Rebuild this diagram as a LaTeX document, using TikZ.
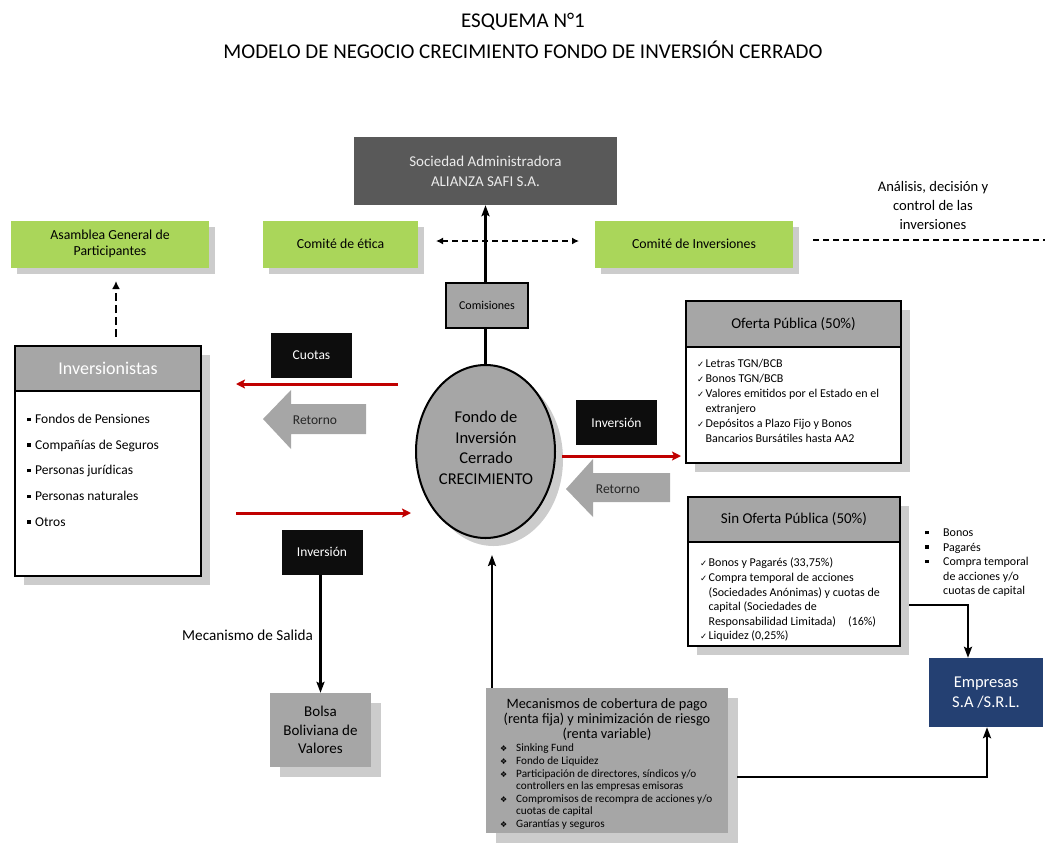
\documentclass[tikz,border=0pt]{standalone}
\usepackage{fontspec}
\setmainfont{Carlito}
\newfontfamily\dejavu{DejaVu Sans}
\usetikzlibrary{arrows.meta,shadows,calc,shapes.geometric}
\definecolor{grn}{RGB}{170,214,90}
\definecolor{gry}{RGB}{166,166,166}
\definecolor{dgry}{RGB}{89,89,89}
\definecolor{blk}{RGB}{13,13,13}
\definecolor{rd}{RGB}{192,0,0}
\definecolor{navy}{RGB}{36,64,114}
\definecolor{shd}{RGB}{204,204,204}
\definecolor{txtg}{RGB}{38,38,38}
\newcommand{\fs}[2]{\fontsize{#1}{#2}\selectfont}
\newcommand{\ckm}{\makebox[8.5pt][l]{{\dejavu\fs{8.5}{8.5}✓}}}
\newcommand{\ckn}{\hspace*{8.5pt}}
\newcommand{\sqb}{\makebox[8pt][l]{\rule[2.5pt]{3.5pt}{3.5pt}}}
\newcommand{\sqr}{\makebox[18pt][l]{\rule[2.5pt]{3.5pt}{3.5pt}}}
\newcommand{\sqn}{\hspace*{18pt}}
\newcommand{\dmb}{\makebox[16pt][l]{{\dejavu\fs{8}{8}❖}}}
\newcommand{\dmn}{\hspace*{16pt}}
\tikzset{
  shadowed/.style={drop shadow={shadow xshift=#1, shadow yshift=-#1, fill=shd, opacity=1}},
  greenbox/.style={fill=grn, minimum width=198pt, minimum height=47pt, inner sep=0pt, align=center, font=\fs{13.8}{16.5}, shadowed=6pt},
  blackbox/.style={fill=blk, text=white, minimum width=81pt, minimum height=45pt, inner sep=0pt, font=\fs{13.5}{16}},
  listbox/.style={draw=black, line width=2pt, fill=white, inner sep=0pt, shadowed=9pt},
  headbox/.style={draw=black, line width=2pt, fill=gry, inner sep=0pt},
  redarr/.style={draw=rd, line width=3pt, -{Stealth[length=9pt,width=9pt,inset=2pt]}},
  blkarr/.style={draw=black, line width=2.5pt, -{Stealth[length=11pt,width=8pt,inset=2pt]}},
  dashline/.style={draw=black, line width=2pt, dash pattern=on 6pt off 4pt},
  blockarrow/.style={fill=gry},
  plain/.style={inner sep=0pt, align=center},
}
\begin{document}
\begin{tikzpicture}[x=1pt,y=-1pt]
\useasboundingbox (0,0) rectangle (1045,852);
% titles
\node[plain, font=\fs{21}{22}] (t1) at (523,22) {ESQUEMA N°1};
\node[plain, font=\fs{21}{22}] (t2) at (523,50) {MODELO DE NEGOCIO CRECIMIENTO FONDO DE INVERSIÓN CERRADO};

% ellipse
\node[draw=black, line width=2pt, fill=gry, shadowed=8pt, ellipse, minimum width=139pt, minimum height=173pt, inner sep=0pt] (ell) at (485.5,451.5) {};
\node[plain, font=\fs{16.5}{20.5}] (ellt) at (486,448) {Fondo de\\Inversión\\Cerrado\\CRECIMIENTO};

\node[fill=dgry, minimum width=263pt, minimum height=68pt, inner sep=0pt, text=white!92!black, align=center, font=\fs{15}{20}] (soc) at (485.5,171) {Sociedad Administradora\\ALIANZA SAFI S.A.};

\draw[blkarr] (ell.north) -- (soc.south);
\node[draw=black, line width=1.5pt, fill=gry, minimum width=82pt, minimum height=45pt, inner sep=0pt, font=\fs{12}{14}] (com) at (487,305.5) {Comisiones};

% green boxes
\node[greenbox] (asam) at (110,244) {Asamblea General de\\Participantes};
\node[greenbox, minimum width=155pt] (cet) at (340.5,244) {Comité de ética};
\node[greenbox] (cinv) at (694,244) {Comité de Inversiones};

\coordinate (da1) at (436,241);
\coordinate (da2) at (579,241);
\draw[dashline, {Latex[length=7pt,width=7pt]}-{Latex[length=7pt,width=7pt]}] (da1) -- (da2);
\coordinate (rend) at (1045,240);
\coordinate (rstart) at (813,240);
\draw[dashline] (rstart) -- (rend);
\node[plain, font=\fs{14.6}{19}] (anal) at (933,205) {Análisis, decisión y\\control de las\\inversiones};

% Inversionistas
\node[listbox, minimum width=186pt, minimum height=230pt] (inv) at (108,461) {};
\node[headbox, anchor=north, minimum width=186pt, minimum height=45pt, text=white, font=\fs{18}{20}] (invh) at (inv.north) {Inversionistas};
\node[inner sep=0pt, align=left, anchor=north west, font=\fs{13.5}{25.7}] (invl) at (27,414) {\sqb Fondos de Pensiones\\\sqb Compañías de Seguros\\\sqb Personas jurídicas\\\sqb Personas naturales\\\sqb Otros};
\coordinate (ua1) at (116,337);
\coordinate (ua2) at (116,281);
\draw[dashline, dash pattern=on 8pt off 4pt, -{Latex[length=8pt,width=8pt]}] (ua1) -- (ua2);

% left flows
\node[blackbox] (cuo) at (311.5,355.5) {Cuotas};
\coordinate (r1a) at (398,384);
\coordinate (r1b) at (236,384);
\draw[redarr] (r1a) -- (r1b);
\fill[blockarrow] (263,419) -- (291,390) -- (291,404) -- (366,404) -- (366,434) -- (291,434) -- (291,449) -- cycle;
\node[plain, text=txtg, font=\fs{13.5}{16}] (ret1) at (315,420) {Retorno};
\coordinate (r2a) at (236,513);
\coordinate (r2b) at (411,513);
\draw[redarr] (r2a) -- (r2b);
\node[blackbox] (inv2) at (322,552) {Inversión};

% Bolsa
\node[fill=gry, minimum width=101pt, minimum height=74pt, inner sep=0pt, align=center, font=\fs{15}{18.5}, shadowed=10pt] (bol) at (320.5,730) {Bolsa\\Boliviana de\\Valores};
\draw[blkarr] (bol.north |- inv2.south) -- (bol.north);
\node[plain, font=\fs{15.2}{16}, anchor=west] (sal) at (182,635) {Mecanismo de Salida};

% right flows
\node[blackbox] (inv3) at (616.5,422.5) {Inversión};
\coordinate (r3a) at (562,456);
\coordinate (r3b) at (681,456);
\draw[redarr] (r3a) -- (r3b);
\fill[blockarrow] (566,489) -- (593,459) -- (593,473) -- (670,473) -- (670,502) -- (593,502) -- (593,517) -- cycle;
\node[plain, text=txtg, font=\fs{13.5}{16}] (ret2) at (618,489) {Retorno};

% Oferta Publica
\node[listbox, minimum width=215pt, minimum height=162pt] (ofe) at (793.5,382) {};
\node[headbox, anchor=north, minimum width=215pt, minimum height=46pt, font=\fs{15}{17}] (ofeh) at (ofe.north) {Oferta Pública (50\%)};
\node[inner sep=0pt, align=left, anchor=north west, font=\fs{12}{15}] (ofel) at (697,359) {\ckm Letras TGN/BCB\\\ckm Bonos TGN/BCB\\\ckm Valores emitidos por el Estado en el\\\ckn extranjero\\\ckm Depósitos a Plazo Fijo y Bonos\\\ckn Bancarios Bursátiles hasta AA2};

% Sin Oferta Publica
\node[listbox, minimum width=212pt, minimum height=149pt] (sof) at (794,571.5) {};
\node[headbox, anchor=north, minimum width=212pt, minimum height=45pt, font=\fs{15}{17}] (sofh) at (sof.north) {Sin Oferta Pública (50\%)};
\node[inner sep=0pt, align=left, anchor=north west, font=\fs{12}{14.6}] (sofl) at (700,558) {\ckm Bonos y Pagarés (33,75\%)\\\ckm Compra temporal de acciones\\\ckn (Sociedades Anónimas) y cuotas de\\\ckn capital (Sociedades de\\\ckn Responsabilidad Limitada)\quad(16\%)\\\ckm Liquidez (0,25\%)};

\node[inner sep=0pt, align=left, anchor=north west, font=\fs{12}{14.4}] (rlist) at (925,529) {\sqr Bonos\\\sqr Pagarés\\\sqr Compra temporal\\\sqn de acciones y/o\\\sqn cuotas de capital};

% Empresas
\node[fill=navy, minimum width=114pt, minimum height=69pt, inner sep=0pt, align=center, text=white, font=\fs{16.5}{20}] (emp) at (986,692.5) {Empresas\\S.A /S.R.L.};
\coordinate (s1) at (909,605);
\coordinate (s2) at (968,605);
\draw[blkarr] (s1) -- (s2) -- (s2 |- emp.north);

% Mecanismos
\node[fill=gry, minimum width=242pt, minimum height=145pt, inner sep=0pt, shadowed=10pt] (mec) at (607,760.5) {};
\node[plain, font=\fs{14.3}{15}] (mect) at (607,720) {Mecanismos de cobertura de pago\\(renta fija) y minimización de riesgo\\(renta variable)};
\node[inner sep=0pt, align=left, anchor=north west, font=\fs{11.2}{11.7}] (mecl) at (500,744) {\dmb Sinking Fund\\[0.8pt]\dmb Fondo de Liquidez\\[1.6pt]\dmb Participación de directores, síndicos y/o\\\dmn controllers en las empresas emisoras\\[1.6pt]\dmb Compromisos de recompra de acciones y/o\\\dmn cuotas de capital\\[1.6pt]\dmb Garantías y seguros};
\coordinate (m1) at (492,555);
\draw[blkarr] (mec.north -| m1) -- (m1);
\coordinate (m2) at (737,777);
\coordinate (m3) at (987,777);
\draw[blkarr] (m2) -- (m3) -- (m3 |- emp.south);
\end{tikzpicture}
\end{document}
